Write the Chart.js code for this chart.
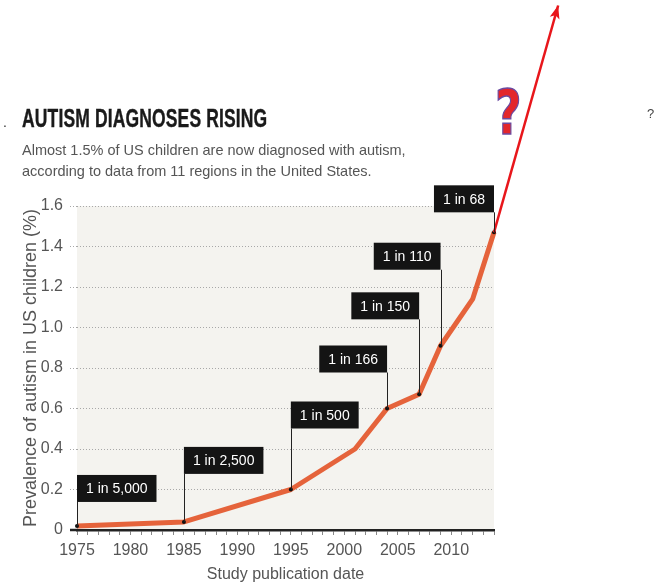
<!DOCTYPE html>
<html>
<head>
<meta charset="utf-8">
<script src="https://cdn.jsdelivr.net/npm/chart.js@4/dist/chart.umd.min.js"></script>
<style>
  body { margin: 0; background: #fff; }
  #wrap { position: relative; width: 654px; height: 586px; overflow: hidden; }
  #chart { position: absolute; left: 0; top: 0; }
  .txt { position: absolute; white-space: nowrap; font-family: "Liberation Sans", Arial, sans-serif; }
  #title { left: 22px; top: 104px; font-size: 25px; font-weight: bold; color: #1a1a1a; transform: scaleX(0.70); transform-origin: left top; letter-spacing: 0.2px;
           -webkit-text-stroke: 0.4px #1a1a1a; }
  #subtitle { left: 22px; top: 140px; font-size: 14.5px; line-height: 21px; color: #555; }
  #question { left: 495px; top: 76px; font-family: "DejaVu Sans", sans-serif; font-size: 62px; font-weight: bold; color: #e3262b;
              -webkit-text-stroke: 1.5px #6b4aa0; transform: scaleX(0.74); transform-origin: left top; }
  #q2 { left: 647px; top: 106px; font-size: 13px; color: #444; }
  #dot { left: 3px; top: 114px; font-size: 14px; color: #333; }
</style>
</head>
<body>
<div id="wrap">
  <canvas id="chart" width="654" height="586"></canvas>
  <div class="txt" id="title">AUTISM DIAGNOSES RISING</div>
  <div class="txt" id="subtitle">Almost 1.5% of US children are now diagnosed with autism,<br>according to data from 11 regions in the United States.</div>
  <div class="txt" id="question">?</div>
  <div class="txt" id="q2">?</div>
  <div class="txt" id="dot">.</div>
</div>
<script>
// ====================
// Datos
// ====================
const years = [1975, 1985, 1995, 2001, 2004, 2007, 2009, 2012, 2014];
const prevalence = [0.02, 0.04, 0.2, 0.4, 0.6, 0.67, 0.91, 1.14, 1.47];
const ratioLabels = ['1 in 5,000', '1 in 2,500', '1 in 500', '', '1 in 166', '1 in 150', '1 in 110', '', '1 in 68'];

// proyección (flecha roja)
const projectionYears = [2014, 2020];
const projectionValues = [1.47, 2.59];

const yTicks = [0, 0.2, 0.4, 0.6, 0.8, 1.0, 1.2, 1.4, 1.6];

// Disposición de las etiquetas: lado de la línea guía y altura sobre el punto (px)
const labelSide = ['left', 'left', 'left', null, 'right', 'right', 'right', null, 'right'];
const labelLift = [24, 48, 61, 0, 36, 75, 76, 0, 20];

const FONT = '"Liberation Sans", Arial, sans-serif';

// ====================
// Plugins
// ====================
const plotBackground = {
  id: 'plotBackground',
  beforeDraw(chart) {
    const { ctx, chartArea } = chart;
    ctx.save();
    ctx.fillStyle = '#f4f3ef';
    ctx.fillRect(chartArea.left, chartArea.top, chartArea.right - chartArea.left, chartArea.bottom - chartArea.top);
    ctx.restore();
  },
  afterDraw(chart) {
    // prolongar el eje x un poco hacia la izquierda
    const { ctx, chartArea } = chart;
    ctx.save();
    ctx.strokeStyle = '#222';
    ctx.lineWidth = 2.5;
    ctx.beginPath();
    ctx.moveTo(chartArea.left - 7, chartArea.bottom);
    ctx.lineTo(chartArea.left + 1, chartArea.bottom);
    ctx.stroke();
    ctx.restore();
  }
};

// Punta de flecha al final de la proyección
const arrowHead = {
  id: 'arrowHead',
  afterDatasetsDraw(chart) {
    const pts = chart.getDatasetMeta(0).data;
    const a = pts[pts.length - 2];
    const b = pts[pts.length - 1];
    const ang = Math.atan2(b.y - a.y, b.x - a.x);
    const len = 13, half = 5;
    const { ctx } = chart;
    ctx.save();
    ctx.translate(b.x, b.y);
    ctx.rotate(ang);
    ctx.fillStyle = '#e8161b';
    ctx.beginPath();
    ctx.moveTo(0, 0);
    ctx.lineTo(-len, -half);
    ctx.lineTo(-len + 3, 0);
    ctx.lineTo(-len, half);
    ctx.closePath();
    ctx.fill();
    ctx.restore();
  }
};

const ratioBoxes = {
  id: 'ratioBoxes',
  afterDatasetsDraw(chart) {
    const { ctx, scales } = chart;
    ctx.save();
    ctx.font = '14px ' + FONT;
    ctx.textBaseline = 'middle';
    ratioLabels.forEach((label, i) => {
      if (!label) return;
      const px = scales.x.getPixelForValue(years[i]);
      const py = scales.y.getPixelForValue(prevalence[i]);
      const w = ctx.measureText(label).width + 18;
      const h = 27;
      const bottom = py - labelLift[i];
      const left = labelSide[i] === 'left' ? px : px - w;

      // línea guía
      ctx.strokeStyle = '#222';
      ctx.lineWidth = 1;
      ctx.beginPath();
      ctx.moveTo(Math.round(px) + 0.5, py);
      ctx.lineTo(Math.round(px) + 0.5, bottom);
      ctx.stroke();

      // caja
      ctx.fillStyle = '#141414';
      ctx.fillRect(left, bottom - h, w, h);
      ctx.fillStyle = '#fff';
      ctx.textAlign = 'center';
      ctx.fillText(label, left + w / 2, bottom - h / 2 + 1);
    });
    ctx.restore();
  }
};

// ====================
// Gráfico
// ====================
const ctx = document.getElementById('chart').getContext('2d');
new Chart(ctx, {
  type: 'line',
  data: {
    datasets: [
      {
        label: 'Proyección',
        data: projectionYears.map((x, i) => ({ x, y: projectionValues[i] })),
        borderColor: '#e8161b',
        borderWidth: 2.5,
        pointRadius: 0,
        clip: false,
        order: 0
      },
      {
        label: 'Prevalencia',
        data: years.map((x, i) => ({ x, y: prevalence[i] })),
        borderColor: '#e5633b',
        borderWidth: 5,
        borderJoinStyle: 'round',
        pointRadius: ratioLabels.map(l => (l ? 2 : 0)),
        pointBackgroundColor: '#111',
        pointBorderWidth: 0,
        clip: 6,
        order: 1
      }
    ]
  },
  options: {
    responsive: false,
    animation: false,
    layout: { padding: { top: 206, right: 160, left: 0, bottom: 0 } },
    plugins: {
      legend: { display: false },
      tooltip: { enabled: false }
    },
    scales: {
      x: {
        type: 'linear',
        min: 1975,
        max: 2014,
        afterFit: scale => { scale.height = 56; },
        afterBuildTicks: scale => {
          const t = [];
          for (let v = 1975; v <= 2014; v++) t.push({ value: v });
          scale.ticks = t;
        },
        ticks: {
          autoSkip: false,
          maxRotation: 0,
          padding: 6,
          color: '#555',
          font: { family: FONT, size: 16 },
          callback: v => (v % 5 === 0 ? String(v) : '')
        },
        grid: {
          drawOnChartArea: false,
          drawTicks: true,
          tickLength: 5,
          tickColor: '#888',
          tickWidth: 1
        },
        border: { display: true, color: '#222', width: 2.5 },
        title: {
          display: true,
          text: 'Study publication date',
          color: '#555',
          font: { family: FONT, size: 16 },
          padding: { top: 0, bottom: 2 }
        }
      },
      y: {
        min: 0,
        max: 1.6,
        afterFit: scale => { scale.width = 77; },
        afterBuildTicks: scale => { scale.ticks = yTicks.map(value => ({ value })); },
        ticks: {
          padding: 7,
          color: '#555',
          font: { family: FONT, size: 16 },
          callback: v => (v === 0 ? '0' : v.toFixed(1))
        },
        grid: {
          color: '#a8a8a8',
          lineWidth: 1,
          tickLength: 7,
          tickColor: '#a8a8a8',
          tickBorderDash: [1, 2]
        },
        border: { display: false, dash: [1, 2] },
        title: {
          display: true,
          text: 'Prevalence of autism in US children (%)',
          color: '#555',
          font: { family: FONT, size: 18 },
          padding: { top: 20, bottom: 0 }
        }
      }
    }
  },
  plugins: [plotBackground, arrowHead, ratioBoxes]
});
</script>
</body>
</html>
